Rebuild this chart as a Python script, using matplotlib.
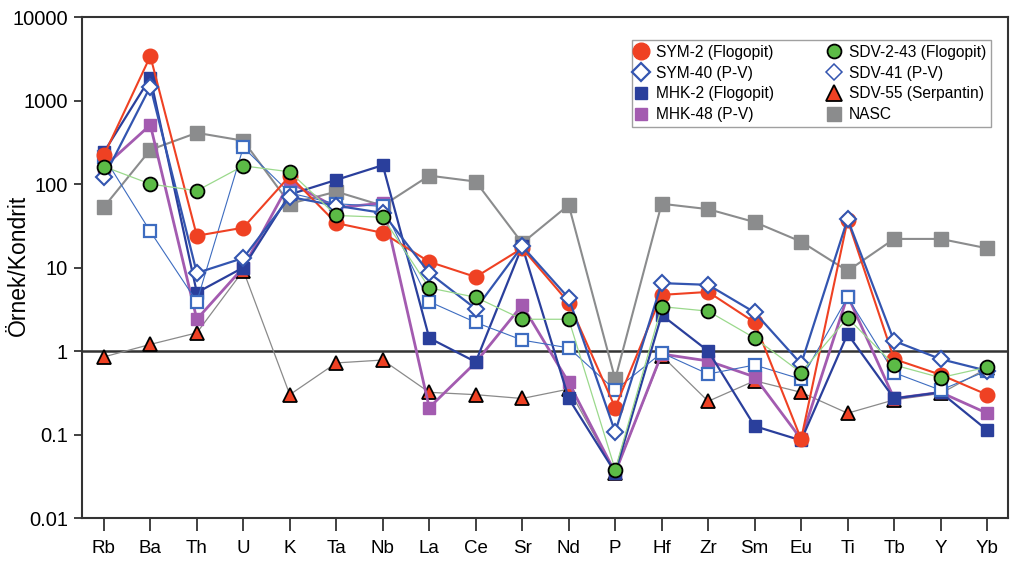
import matplotlib
matplotlib.use("Agg")
import matplotlib.pyplot as plt
from matplotlib.lines import Line2D
from matplotlib.ticker import FixedLocator, NullLocator

plt.rcParams['font.family'] = ['Liberation Sans', 'DejaVu Sans']

elements = ['Rb', 'Ba', 'Th', 'U', 'K', 'Ta', 'Nb', 'La', 'Ce', 'Sr', 'Nd',
            'P', 'Hf', 'Zr', 'Sm', 'Eu', 'Ti', 'Tb', 'Y', 'Yb']

sym_2 = [220, 3400, 24, 30, 125, 34, 26, 11.7, 7.7, 17, 3.8, 0.21, 4.7, 5.1,
         2.2, 0.088, 37, 0.8, 0.52, 0.3]
sym_40 = [120, 1470, 8.6, 13, 70, 55, 45, 8.6, 3.2, 18, 4.3, 0.107, 6.5, 6.2,
          2.9, 0.70, 38, 1.32, 0.8, 0.58]
mhk_2 = [240, 1880, 5.0, 10, 75, 112, 168, 1.43, 0.74, 18, 0.27, 0.035, 2.7,
         1.0, 0.126, 0.085, 1.6, 0.27, 0.32, 0.113]
mhk_48 = [160, 510, 2.4, 10, 105, 52, 59, 0.21, 0.73, 3.55, 0.42, 0.035, 0.92,
          0.76, 0.49, 0.088, 4.6, 0.27, 0.32, 0.18]
sdv_2_43 = [162, 100, 83, 165, 140, 42, 40, 5.7, 4.4, 2.4, 2.4, 0.038, 3.4,
            3.0, 1.43, 0.55, 2.5, 0.68, 0.48, 0.64]
sdv_41 = [212, 27, 3.9, 275, 78, 58, 54, 3.9, 2.2, 1.35, 1.09, 0.34, 0.95,
          0.53, 0.68, 0.46, 4.4, 0.55, 0.34, 0.58]
sdv_55 = [0.85, 1.2, 1.65, 9.2, 0.30, 0.72, 0.78, 0.32, 0.30, 0.27, 0.35,
          0.035, 0.88, 0.25, 0.44, 0.32, 0.18, 0.26, 0.31, 0.62]
nasc = [53, 257, 410, 330, 58, 81, 55, 126, 107, 19.6, 56, 0.46, 58, 50, 35,
        20.4, 9.1, 22, 22, 17]

red = '#ef4123'
dark_blue = '#2a3f9c'
mid_blue = '#3355b0'
light_blue = '#3d6cc0'
purple = '#a35bb0'
green = '#5cbb46'
gray = '#8b8c8d'

fig = plt.figure(figsize=(10.10, 5.67), dpi=100)
ax = fig.add_axes([0.0812, 0.0864, 0.9168, 0.8836])
x = list(range(len(elements)))

# drawing order roughly follows the reference overlaps
ax.plot(x, nasc, color=gray, lw=1.5, marker='s', ms=9.5, mfc=gray,
        mec=gray, zorder=3)
ax.plot(x, sdv_55, color='#8a8a8a', lw=0.9, marker='^', ms=10.5, mfc=red,
        mec='black', mew=1.3, zorder=4)
ax.plot(x, mhk_48, color=purple, lw=2.0, marker='s', ms=9, mfc=purple,
        mec=purple, zorder=5)
ax.plot(x, mhk_2, color=dark_blue, lw=1.6, marker='s', ms=9, mfc=dark_blue,
        mec=dark_blue, zorder=6)
ax.plot(x, sdv_41, color=light_blue, lw=0.8, marker='s', ms=9, mfc='white',
        mec=light_blue, mew=1.6, zorder=7)
ax.plot(x, sym_2, color=red, lw=1.5, marker='o', ms=10.5, mfc=red, mec=red,
        zorder=8)
ax.plot(x, sym_40, color=mid_blue, lw=1.6, marker='D', ms=8.5, mfc='white',
        mec=mid_blue, mew=1.5, zorder=9)
ax.plot(x, sdv_2_43, color='#9bd98c', lw=0.9, marker='o', ms=10, mfc=green,
        mec='black', mew=1.3, zorder=10)

ax.axhline(1, color='#333333', lw=1.8, zorder=2)

ax.set_yscale('log')
ax.set_ylim(0.01, 10000)
ax.set_xlim(-0.47, 19.45)
ax.yaxis.set_major_locator(FixedLocator([0.01, 0.1, 1, 10, 100, 1000, 10000]))
ax.yaxis.set_minor_locator(NullLocator())
ax.set_yticklabels(['0.01', '0.1', '1', '10', '100', '1000', '10000'],
                   fontsize=14.5)
ax.set_xticks(x)
ax.set_xticklabels(elements, fontsize=13.5)
ax.tick_params(axis='y', direction='out', length=6, width=1.3, pad=4,
               color='#333333')
ax.tick_params(axis='x', direction='out', length=9, width=1.3, pad=7,
               color='#333333')
for spine in ax.spines.values():
    spine.set_color('#333333')
    spine.set_linewidth(1.5)

ax.set_ylabel('Örnek/Kondrit', fontsize=16.5)
ax.yaxis.set_label_coords(-0.056, 0.505)

handles = [
    Line2D([], [], ls='none', marker='o', ms=12, mfc=red, mec=red),
    Line2D([], [], ls='none', marker='D', ms=9.5, mfc='white', mec=mid_blue,
           mew=1.6),
    Line2D([], [], ls='none', marker='s', ms=8.5, mfc=dark_blue, mec=dark_blue),
    Line2D([], [], ls='none', marker='s', ms=8.5, mfc=purple, mec=purple),
    Line2D([], [], ls='none', marker='o', ms=10, mfc=green, mec='black',
           mew=1.3),
    Line2D([], [], ls='none', marker='D', ms=8.5, mfc='white', mec=mid_blue,
           mew=1.1),
    Line2D([], [], ls='none', marker='^', ms=12, mfc=red, mec='black',
           mew=1.3),
    Line2D([], [], ls='none', marker='s', ms=9.5, mfc=gray, mec=gray),
]
labels = ['SYM-2 (Flogopit)', 'SYM-40 (P-V)', 'MHK-2 (Flogopit)',
          'MHK-48 (P-V)', 'SDV-2-43 (Flogopit)', 'SDV-41 (P-V)',
          'SDV-55 (Serpantin)', 'NASC']
leg = ax.legend(handles, labels, ncol=2, loc='upper right',
                bbox_to_anchor=(0.9812, 0.9295), bbox_transform=fig.transFigure,
                fontsize=11.2, frameon=True, fancybox=False,
                edgecolor='#888888', handlelength=0.6, handletextpad=0.7,
                columnspacing=3.5, labelspacing=0.38, borderpad=0.3,
                borderaxespad=0)
leg.get_frame().set_linewidth(1.0)
leg.set_zorder(20)

fig.savefig('out.png', dpi=100)
